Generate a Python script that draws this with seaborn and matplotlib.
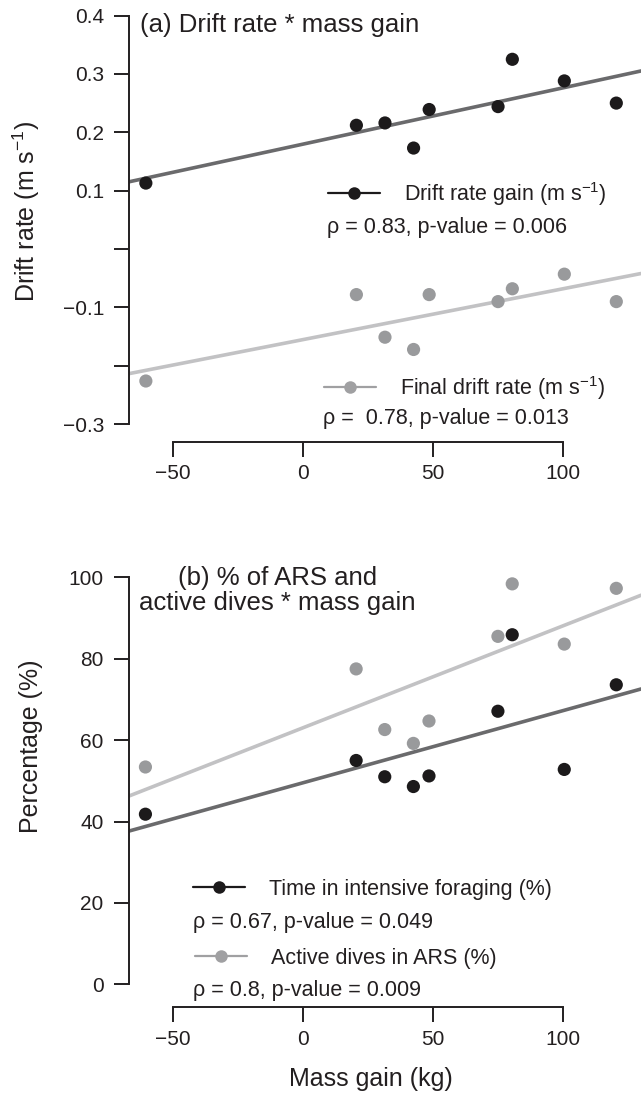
import numpy as np
import pandas as pd
import matplotlib
matplotlib.use("Agg")
import matplotlib.pyplot as plt
from matplotlib.lines import Line2D
from matplotlib.legend import Legend
import seaborn as sns

# ---------------- data ----------------
mass_gain = [-60.5, 20.5, 31.5, 42.5, 48.5, 75, 80.5, 100.5, 120.5]
drift_gain = [0.113, 0.212, 0.216, 0.173, 0.239, 0.244, 0.325, 0.288, 0.250]
final_drift = [-0.226, -0.078, -0.151, -0.172, -0.078, -0.090, -0.068, -0.043, -0.090]
time_intensive = [41.8, 55.0, 51.0, 48.6, 51.2, 67.1, 85.9, 52.8, 73.6]
active_dives = [53.4, 77.5, 62.6, 59.2, 64.7, 85.5, 98.4, 83.6, 97.3]

x_ticks = [-50, 0, 50, 100]
top_yticks = [0.4, 0.3, 0.2, 0.1, 0.0, -0.1, -0.2, -0.3]
top_yticklabels = ["0.4", "0.3", "0.2", "0.1", "", "\u22120.1", "", "\u22120.3"]
bot_yticks = [0, 20, 40, 60, 80, 100]

top_labels = ["Drift rate gain (m s$^{-1}$)", "Final drift rate (m s$^{-1}$)"]
top_stats = ["\u03c1 = 0.83, p-value = 0.006", "\u03c1 =  0.78, p-value = 0.013"]
bot_labels = ["Time in intensive foraging (%)", "Active dives in ARS (%)"]
bot_stats = ["\u03c1 = 0.67, p-value = 0.049", "\u03c1 = 0.8, p-value = 0.009"]

df = pd.DataFrame({"mass": mass_gain, "gain": drift_gain, "final": final_drift,
                   "tif": time_intensive, "ars": active_dives})

# ---------------- style ----------------
sns.set_style("ticks")
plt.rcParams["font.family"] = ["Liberation Sans", "DejaVu Sans"]
plt.rcParams["mathtext.default"] = "regular"
TXT = "#231f20"
plt.rcParams["text.color"] = TXT
plt.rcParams["axes.labelcolor"] = TXT
plt.rcParams["xtick.color"] = TXT
plt.rcParams["ytick.color"] = TXT

DOT_DARK = "#1c1a1b"
DOT_LIGHT = "#999a9c"
LINE_DARK = "#6a6a6c"
LINE_LIGHT = "#c2c2c4"
LEG_DARK = "#1c1a1b"
LEG_LIGHT = "#a0a0a2"

fig = plt.figure(figsize=(6.41, 10.98), dpi=100)
ax1 = fig.add_axes([0.2012, 0.5977, 0.7988, 0.3988])
ax2 = fig.add_axes([0.2005, 0.0826, 0.7995, 0.4027])

XLIM = (-67, 130)
TICK_FS = 15
LAB_FS = 18
TITLE_FS = 18.5
LEG_FS = 15.5
MS = 90


def style_axis(ax, ylim, ybounds, yticks, yticklabels):
    ax.set_xlim(*XLIM)
    ax.set_ylim(*ylim)
    for s in ["top", "right"]:
        ax.spines[s].set_visible(False)
    for s in ["left", "bottom"]:
        ax.spines[s].set_linewidth(1.4)
        ax.spines[s].set_color(TXT)
    ax.spines["left"].set_bounds(*ybounds)
    ax.spines["bottom"].set_bounds(-50, 100)
    ax.set_xticks(x_ticks)
    ax.set_xticklabels(["\u221250", "0", "50", "100"])
    ax.set_yticks(yticks)
    ax.set_yticklabels(yticklabels)
    ax.tick_params(axis="both", length=11, width=1.4, labelsize=TICK_FS)
    ax.tick_params(axis="y", pad=7)
    ax.tick_params(axis="x", pad=5)
    ax.patch.set_alpha(0)


def reg(ax, ycol, dot, line):
    sns.regplot(data=df, x="mass", y=ycol, ax=ax, ci=None, truncate=False,
                scatter_kws=dict(s=MS, color=dot, edgecolor="none", alpha=1, zorder=3),
                line_kws=dict(color=line, lw=2.6, zorder=2))


def legend_row(ax, label, color, anchor):
    h = Line2D([], [], color=color, lw=1.6, marker="o", markersize=9,
               markerfacecolor=color, markeredgecolor="none")
    lg = Legend(ax, [h], [label], loc="center left", bbox_to_anchor=anchor,
                frameon=False, fontsize=LEG_FS, handlelength=2.42,
                handletextpad=1.12, borderpad=0, borderaxespad=0)
    ax.add_artist(lg)


# ---------------- panel (a) ----------------
ax1.set_xlim(*XLIM)
ax1.set_ylim(-0.33, 0.42)
reg(ax1, "gain", DOT_DARK, LINE_DARK)
reg(ax1, "final", DOT_LIGHT, LINE_LIGHT)
style_axis(ax1, (-0.33, 0.42), (-0.3, 0.4), top_yticks, top_yticklabels)
ax1.set_xlabel("")
ax1.set_ylabel("Drift rate (m s$^{-1}$)", fontsize=LAB_FS)
ax1.yaxis.set_label_coords(-0.17, 0.525)
ax1.text(0.0215, 0.9516, "(a) Drift rate * mass gain", transform=ax1.transAxes,
         fontsize=TITLE_FS, ha="left", va="center")
legend_row(ax1, top_labels[0], LEG_DARK, (0.389, 0.5657))
legend_row(ax1, top_labels[1], LEG_LIGHT, (0.381, 0.1226))
ax1.text(0.3867, 0.4903, top_stats[0], transform=ax1.transAxes, fontsize=LEG_FS,
         ha="left", va="center")
ax1.text(0.379, 0.054, top_stats[1], transform=ax1.transAxes, fontsize=LEG_FS,
         ha="left", va="center")

# ---------------- panel (b) ----------------
ax2.set_xlim(*XLIM)
ax2.set_ylim(-5.65, 103)
reg(ax2, "ars", DOT_LIGHT, LINE_LIGHT)
reg(ax2, "tif", DOT_DARK, LINE_DARK)
style_axis(ax2, (-5.65, 103), (0, 100), bot_yticks, [str(v) for v in bot_yticks])
ax2.set_xlabel("Mass gain (kg)", fontsize=LAB_FS)
ax2.xaxis.set_label_coords(0.473, -0.135)
ax2.set_ylabel("Percentage (%)", fontsize=LAB_FS)
ax2.yaxis.set_label_coords(-0.167, 0.59)
ax2.text(0.29, 0.9426, "(b) % of ARS and\nactive dives * mass gain",
         transform=ax2.transAxes, fontsize=TITLE_FS, ha="center", va="center",
         linespacing=1.08)
legend_row(ax2, bot_labels[0], LEG_DARK, (0.126, 0.2675))
legend_row(ax2, bot_labels[1], LEG_LIGHT, (0.130, 0.1115))
ax2.text(0.126, 0.1909, bot_stats[0], transform=ax2.transAxes, fontsize=LEG_FS,
         ha="left", va="center")
ax2.text(0.126, 0.039, bot_stats[1], transform=ax2.transAxes, fontsize=LEG_FS,
         ha="left", va="center")

fig.savefig("out.png", dpi=100)
